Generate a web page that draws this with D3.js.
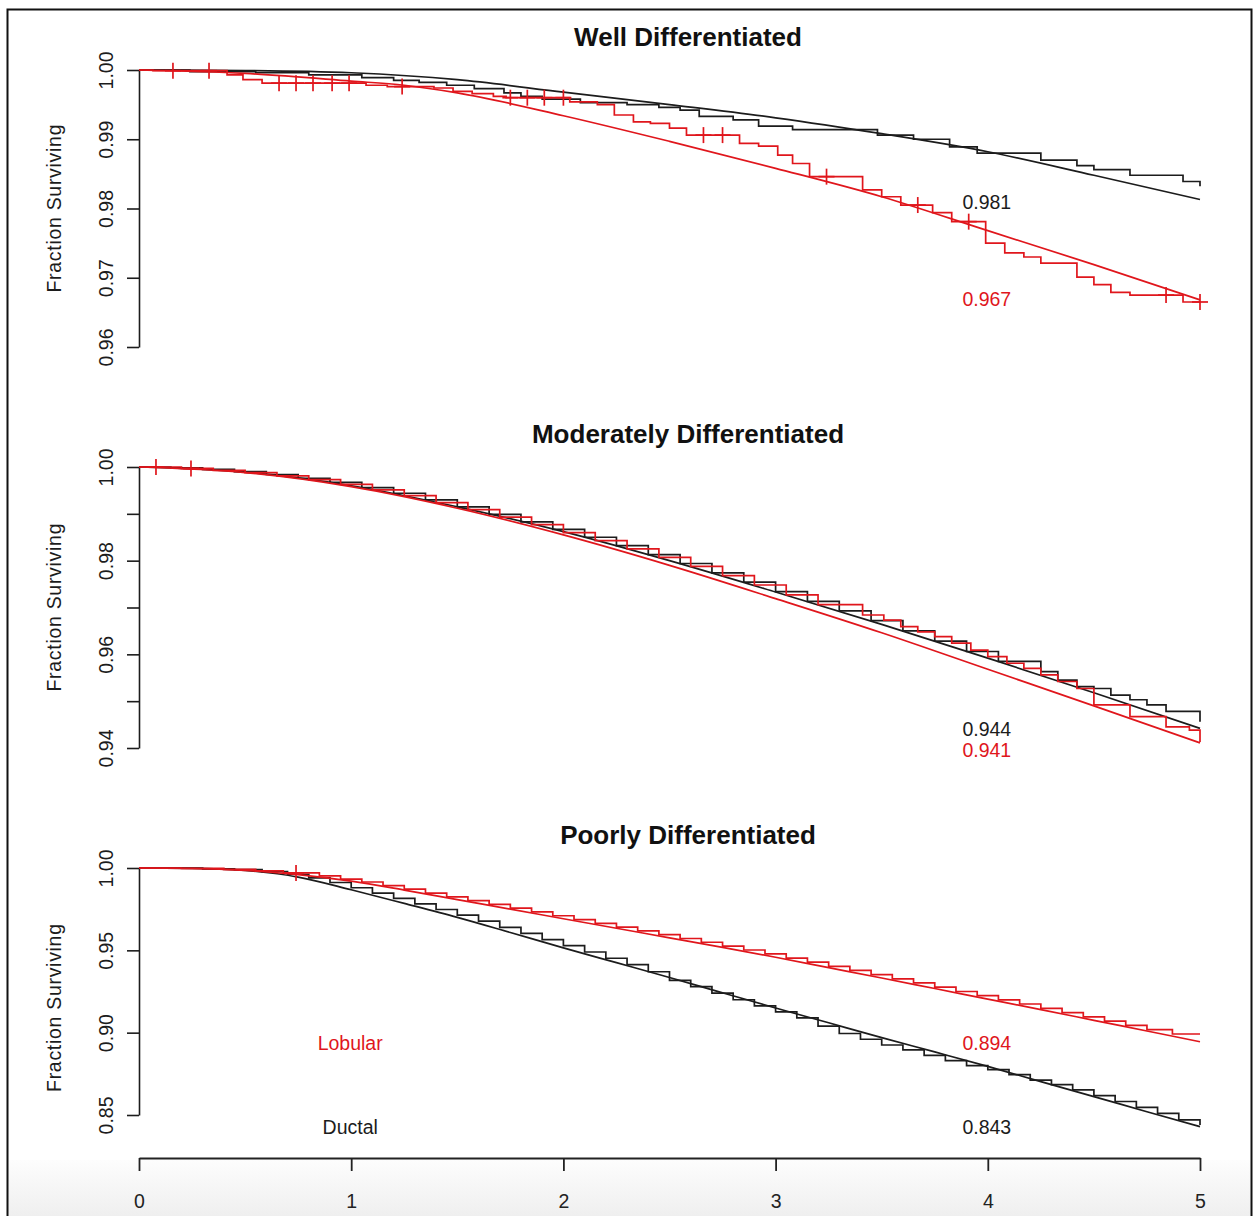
<!DOCTYPE html>
<html>
<head>
<meta charset="utf-8">
<script src="https://cdn.jsdelivr.net/npm/d3@7"></script>
<style>
  html, body { margin: 0; padding: 0; background: #fff; }
</style>
</head>
<body>
<div id="chart"></div>
<script>
// ---- data (t in years, S = fraction surviving) ----
const panelTitles = ['Well Differentiated', 'Moderately Differentiated', 'Poorly Differentiated'];
const groupNames = ['Ductal', 'Lobular'];
const xTicks = [0, 1, 2, 3, 4, 5];

const wellYTicks = [0.96, 0.97, 0.98, 0.99, 1.00];
const modYTicks = [0.94, 0.95, 0.96, 0.97, 0.98, 0.99, 1.00];
const modYLabels = [0.94, 0.96, 0.98, 1.00];
const poorYTicks = [0.85, 0.90, 0.95, 1.00];

// five-year values printed on the chart: [ductal, lobular]
const wellFiveYear = [0.981, 0.967];
const modFiveYear = [0.944, 0.941];
const poorFiveYear = [0.843, 0.894];

// Kaplan-Meier steps [time, survival after step]
const wellDuctalKM = [[0.24,0.99975],[0.55,0.9996],[0.8,0.9993],[1.05,0.9989],[1.2,0.9985],[1.32,0.9982],[1.45,0.9978],[1.58,0.9973],[1.72,0.9967],[1.8,0.9962],[1.9,0.9958],[2.08,0.9953],[2.3,0.995],[2.45,0.9946],[2.55,0.9942],[2.64,0.9933],[2.8,0.9928],[2.92,0.9919],[3.08,0.9914],[3.48,0.9906],[3.65,0.99],[3.82,0.9889],[3.95,0.988],[4.25,0.987],[4.42,0.9862],[4.5,0.9856],[4.67,0.9848],[4.92,0.9839],[5.0,0.9832]];
const wellDuctalFit = [[0,1],[0.5,0.99993],[1,0.9996],[1.5,0.9986],[2,0.9968],[2.5,0.995],[3,0.9931],[3.5,0.9908],[4,0.9882],[4.5,0.9848],[5,0.9813]];
const wellLobularKM = [[0.066,0.9999],[0.415,0.9993],[0.49,0.9986],[0.58,0.9981],[1.07,0.9978],[1.17,0.9976],[1.39,0.9974],[1.48,0.9969],[1.57,0.9966],[1.67,0.9962],[1.73,0.996],[2.03,0.9954],[2.16,0.995],[2.24,0.9935],[2.33,0.9925],[2.41,0.9923],[2.5,0.9916],[2.58,0.9906],[2.83,0.9894],[2.92,0.989],[3.01,0.9877],[3.08,0.9865],[3.16,0.9846],[3.41,0.9827],[3.5,0.9817],[3.59,0.9805],[3.74,0.9794],[3.83,0.9781],[3.99,0.975],[4.08,0.9736],[4.17,0.973],[4.25,0.9721],[4.42,0.9701],[4.5,0.969],[4.58,0.9679],[4.67,0.9675],[4.92,0.9665]];
const wellLobularFit = [[0,1],[0.5,0.9995],[1,0.9984],[1.25,0.9978],[1.5,0.9967],[2,0.9934],[2.5,0.9897],[3,0.9858],[3.5,0.9817],[4,0.9768],[4.5,0.9719],[5,0.9668]];
const wellCensor = [0.16,0.33,0.66,0.74,0.82,0.91,0.99,1.24,1.75,1.83,1.91,2.0,2.66,2.75,3.24,3.67,3.91,4.84,5.0];

const modDuctalKM = [[0.15,0.9998],[0.3,0.9995],[0.45,0.999],[0.6,0.9984],[0.75,0.9976],[0.9,0.9967],[1.05,0.9956],[1.2,0.9944],[1.35,0.993],[1.5,0.9915],[1.65,0.9899],[1.8,0.9883],[1.95,0.9867],[2.1,0.985],[2.25,0.9832],[2.4,0.9813],[2.55,0.9794],[2.7,0.9774],[2.85,0.9754],[3.0,0.9734],[3.15,0.9713],[3.3,0.9693],[3.45,0.9672],[3.6,0.965],[3.75,0.9628],[3.9,0.9606],[4.05,0.9585],[4.25,0.9563],[4.33,0.9545],[4.42,0.9531],[4.5,0.9527],[4.58,0.9513],[4.67,0.9503],[4.75,0.9492],[4.84,0.9478],[5.0,0.9456]];
const modDuctalFit = [[0,1],[0.5,0.9989],[1,0.996],[1.5,0.9915],[2,0.9862],[2.5,0.98],[3,0.9733],[3.5,0.9664],[4,0.9592],[4.5,0.9518],[5,0.9442]];
const modLobularKM = [[0.2,0.9997],[0.35,0.9993],[0.5,0.9988],[0.65,0.9981],[0.8,0.9973],[0.95,0.9963],[1.1,0.9951],[1.25,0.9939],[1.4,0.9924],[1.55,0.9909],[1.7,0.9893],[1.85,0.9877],[2.0,0.986],[2.15,0.9843],[2.3,0.9825],[2.45,0.9807],[2.6,0.9788],[2.75,0.9768],[2.9,0.9748],[3.05,0.9727],[3.2,0.9706],[3.41,0.9684],[3.51,0.9673],[3.59,0.9659],[3.67,0.9648],[3.75,0.9638],[3.83,0.9624],[3.92,0.9609],[4.0,0.9595],[4.09,0.9581],[4.17,0.957],[4.25,0.9556],[4.33,0.9542],[4.42,0.9527],[4.5,0.9492],[4.67,0.9467],[4.84,0.9445],[4.95,0.9438],[5.0,0.9413]];
const modLobularFit = [[0,1],[0.5,0.9988],[1,0.9958],[1.5,0.9912],[2,0.9855],[2.5,0.979],[3,0.9719],[3.5,0.9646],[4,0.9568],[4.5,0.949],[5,0.9411]];
const modCensor = [0.08, 0.245];

const poorDuctalKM = [[0.12,0.9999],[0.3,0.9995],[0.45,0.999],[0.58,0.9978],[0.7,0.9962],[0.8,0.994],[0.9,0.9912],[1.0,0.988],[1.1,0.9848],[1.2,0.9815],[1.3,0.9782],[1.4,0.9748],[1.5,0.9714],[1.6,0.9677],[1.7,0.964],[1.8,0.9603],[1.9,0.9565],[2.0,0.9528],[2.1,0.949],[2.2,0.9452],[2.3,0.9413],[2.4,0.937],[2.5,0.9318],[2.6,0.928],[2.7,0.924],[2.8,0.92],[2.9,0.9163],[3.0,0.9126],[3.1,0.909],[3.2,0.904],[3.3,0.8995],[3.4,0.896],[3.5,0.8925],[3.6,0.8895],[3.7,0.8862],[3.8,0.883],[3.9,0.88],[4.0,0.8775],[4.1,0.8745],[4.2,0.8712],[4.3,0.8685],[4.4,0.8652],[4.5,0.8618],[4.6,0.8582],[4.7,0.8546],[4.8,0.851],[4.9,0.847],[5.0,0.844]];
const poorDuctalFit = [[0,1],[0.25,0.9998],[0.5,0.9985],[0.75,0.9945],[1,0.9868],[1.25,0.9785],[1.5,0.97],[1.75,0.9608],[2,0.9515],[2.25,0.9425],[2.5,0.9335],[2.75,0.9242],[3,0.915],[3.25,0.906],[3.5,0.897],[3.75,0.8883],[4,0.8795],[4.25,0.8703],[4.5,0.8612],[4.75,0.852],[5,0.8429]];
const poorLobularKM = [[0.2,0.9998],[0.4,0.9992],[0.55,0.9982],[0.68,0.997],[0.85,0.9952],[0.95,0.9932],[1.05,0.9915],[1.15,0.9893],[1.25,0.9872],[1.35,0.9848],[1.45,0.9825],[1.55,0.9802],[1.65,0.9779],[1.75,0.9756],[1.85,0.9733],[1.95,0.971],[2.05,0.9687],[2.15,0.9664],[2.25,0.9641],[2.35,0.9618],[2.45,0.9595],[2.55,0.9572],[2.65,0.9549],[2.75,0.9526],[2.85,0.9502],[2.95,0.9478],[3.05,0.9453],[3.15,0.9428],[3.25,0.9403],[3.35,0.9378],[3.45,0.9352],[3.55,0.9327],[3.65,0.9302],[3.75,0.9276],[3.85,0.925],[3.95,0.9225],[4.05,0.9199],[4.15,0.9174],[4.25,0.9148],[4.35,0.9122],[4.45,0.9096],[4.55,0.907],[4.65,0.9044],[4.75,0.9018],[4.87,0.8992]];
const poorLobularFit = [[0,1],[0.25,0.9997],[0.5,0.9985],[0.75,0.996],[1,0.992],[1.25,0.9866],[1.5,0.9808],[1.75,0.975],[2,0.9692],[2.25,0.9634],[2.5,0.9576],[2.75,0.9518],[3,0.9458],[3.25,0.9395],[3.5,0.9332],[3.75,0.9268],[4,0.9204],[4.25,0.914],[4.5,0.9075],[4.75,0.901],[5,0.8945]];
const poorCensor = [0.74];

// ---- layout ----
const width = 1259, height = 1216;
const black = '#1c1c1c', red = '#e0161c';
const font = '"Liberation Sans", Arial, Helvetica, sans-serif';

const panels = [
    { title: panelTitles[0], domain: [0.96, 1.0], range: [347, 70], ticks: wellYTicks, labels: wellYTicks, ylabMid: 0.98,
      dKM: wellDuctalKM, dFit: wellDuctalFit, lKM: wellLobularKM, lFit: wellLobularFit, censor: wellCensor, five: wellFiveYear, names: false },
    { title: panelTitles[1], domain: [0.94, 1.0], range: [748, 467], ticks: modYTicks, labels: modYLabels, ylabMid: 0.97,
      dKM: modDuctalKM, dFit: modDuctalFit, lKM: modLobularKM, lFit: modLobularFit, censor: modCensor, five: modFiveYear, names: false },
    { title: panelTitles[2], domain: [0.85, 1.0], range: [1115, 868], ticks: poorYTicks, labels: poorYTicks, ylabMid: 0.915,
      dKM: poorDuctalKM, dFit: poorDuctalFit, lKM: poorLobularKM, lFit: poorLobularFit, censor: poorCensor, five: poorFiveYear, names: true }
];

const svg = d3.select('#chart')
    .append('svg')
    .attr('width', width)
    .attr('height', height)
    .style('display', 'block');

svg.append('rect').attr('width', width).attr('height', height).attr('fill', '#fff');

// faint grey band at the bottom of the screenshot
const grad = svg.append('defs').append('linearGradient')
    .attr('id', 'bottomFade').attr('x1', 0).attr('x2', 0).attr('y1', 0).attr('y2', 1);
grad.append('stop').attr('offset', '0%').attr('stop-color', '#fdfdfd');
grad.append('stop').attr('offset', '100%').attr('stop-color', '#eeeeee');
svg.append('rect')
    .attr('x', 8).attr('y', 1160).attr('width', 1243).attr('height', 60)
    .attr('fill', 'url(#bottomFade)');

// frame
svg.append('rect')
    .attr('x', 7.5).attr('y', 9.5).attr('width', 1244).attr('height', 1300)
    .attr('fill', 'none').attr('stroke', '#111').attr('stroke-width', 2);

const x = d3.scaleLinear().domain([0, 5]).range([139, 1200]);

function stepPoints(km) {
    const pts = [[0, 1]].concat(km);
    const last = km[km.length - 1];
    if (last[0] < 5) pts.push([5, last[1]]);
    return pts;
}

function kmAt(km, t) {
    let s = 1;
    km.forEach(d => { if (d[0] <= t) s = d[1]; });
    return s;
}

panels.forEach(p => {
    const y = d3.scaleLinear().domain(p.domain).range(p.range);
    const g = svg.append('g');

    // y axis
    const yAxis = d3.axisLeft(y)
        .tickValues(p.ticks)
        .tickSize(12)
        .tickSizeOuter(0)
        .tickFormat(d => p.labels.includes(d) ? d3.format('.2f')(d) : '');
    const yAxisGroup = g.append('g')
        .attr('transform', `translate(${x(0)},0)`)
        .call(yAxis);
    yAxisGroup.attr('font-family', font).attr('font-size', 19.5).attr('color', black);
    yAxisGroup.selectAll('path, line').attr('stroke-width', 1.6);
    yAxisGroup.selectAll('text')
        .attr('x', null).attr('dy', null)
        .attr('text-anchor', 'middle')
        .attr('transform', 'translate(-26,0) rotate(-90)');

    g.append('text')
        .attr('transform', `translate(61,${y(p.ylabMid)}) rotate(-90)`)
        .attr('text-anchor', 'middle')
        .attr('font-family', font).attr('font-size', 19.5)
        .attr('textLength', 168).attr('lengthAdjust', 'spacing')
        .attr('fill', black)
        .text('Fraction Surviving');

    // title
    g.append('text')
        .attr('x', 688).attr('y', p.range[1] - 24)
        .attr('text-anchor', 'middle')
        .attr('font-family', font).attr('font-size', 26).attr('font-weight', 'bold')
        .attr('fill', '#111')
        .text(p.title);

    const stepLine = d3.line().x(d => x(d[0])).y(d => y(d[1])).curve(d3.curveStepAfter);
    const fitLine = d3.line().x(d => x(d[0])).y(d => y(d[1])).curve(d3.curveMonotoneX);

    const curves = [
        { data: stepPoints(p.dKM), line: stepLine, color: black },
        { data: p.dFit, line: fitLine, color: black },
        { data: stepPoints(p.lKM), line: stepLine, color: red },
        { data: p.lFit, line: fitLine, color: red }
    ];
    g.selectAll('path.curve')
        .data(curves)
        .join('path')
        .classed('curve', true)
        .attr('fill', 'none')
        .attr('stroke', d => d.color)
        .attr('stroke-width', 1.7)
        .attr('d', d => d.line(d.data));

    // censoring marks on the lobular KM curve
    const marks = g.selectAll('g.censor')
        .data(p.censor)
        .join('g')
        .classed('censor', true)
        .attr('transform', t => `translate(${x(t)},${y(kmAt(p.lKM, t))})`);
    marks.append('line').attr('x1', -8).attr('x2', 8).attr('stroke', red).attr('stroke-width', 1.7);
    marks.append('line').attr('y1', -8).attr('y2', 8).attr('stroke', red).attr('stroke-width', 1.7);

    // five-year values at t = 4 (and group names at t = 1 in the last panel)
    let yd = y(p.five[0]), yl = y(p.five[1]);
    if (Math.abs(yd - yl) < 20) {
        if (yl > yd) yl = yd + 21; else yd = yl + 21;
    }
    const notes = [
        { t: 4, py: yd, text: d3.format('.3f')(p.five[0]), color: black },
        { t: 4, py: yl, text: d3.format('.3f')(p.five[1]), color: red }
    ];
    if (p.names) {
        notes.push({ t: 1, py: yd, text: groupNames[0], color: black });
        notes.push({ t: 1, py: yl, text: groupNames[1], color: red });
    }
    g.selectAll('text.note')
        .data(notes)
        .join('text')
        .classed('note', true)
        .attr('x', d => x(d.t) - 1)
        .attr('y', d => d.py + 7)
        .attr('text-anchor', 'middle')
        .attr('font-family', font).attr('font-size', 19.5)
        .attr('fill', d => d.color)
        .text(d => d.text);
});

// x axis below the last panel
const xAxis = d3.axisBottom(x).tickValues(xTicks).tickSize(13).tickSizeOuter(0).tickFormat(d3.format('d'));
const xAxisGroup = svg.append('g')
    .attr('transform', 'translate(0,1158)')
    .call(xAxis);
xAxisGroup.attr('font-family', font).attr('font-size', 19.5).attr('color', '#222');
xAxisGroup.selectAll('path, line').attr('stroke-width', 1.8);
xAxisGroup.selectAll('text').attr('y', 50).attr('dy', null);
</script>
</body>
</html>
